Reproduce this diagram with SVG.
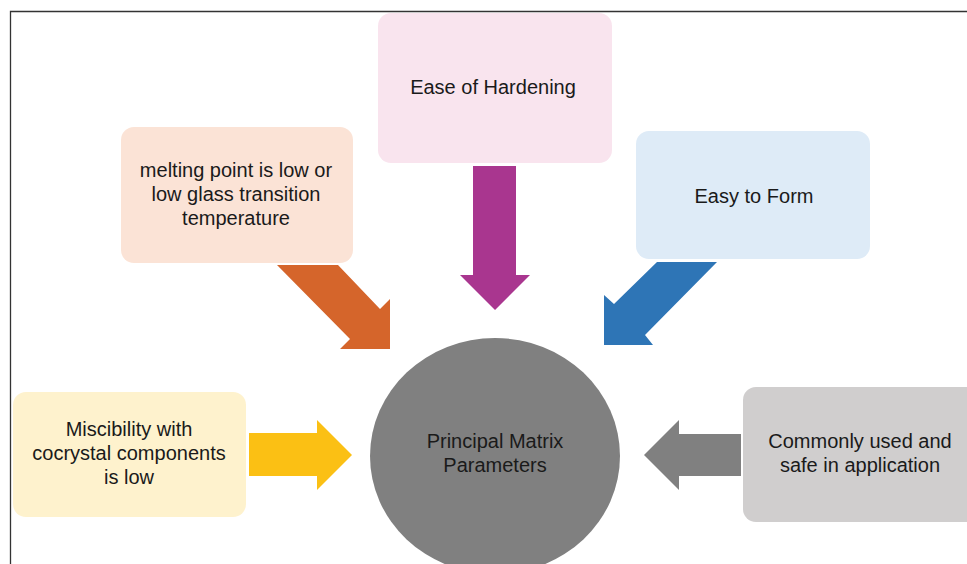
<svg xmlns="http://www.w3.org/2000/svg" width="967" height="564" viewBox="0 0 967 564">
<style>
text{font-family:"Liberation Sans",Arial,sans-serif;font-size:20px;fill:#1a1a1a;text-anchor:middle}
</style>
<rect width="967" height="564" fill="#ffffff"/>
<path d="M10.5 564 V11.5 H967" fill="none" stroke="#333333" stroke-width="1.3"/>
<g id="connectors">
<polygon fill="#D5652B" points="277,265 338,265 380,309 390,299 390,349 340,349 350,339"/>
<polygon fill="#A9368F" points="473,166 516,166 516,275 530,275 495,310 460,275 473,275"/>
<polygon fill="#2E75B6" points="657,262 717,262 645,335 653,345 604,345 604,295 614,304"/>
<polygon fill="#FBC014" points="249,433 317,433 317,420 352,455 317,490 317,476 249,476"/>
<polygon fill="#808080" points="741,434 679,434 679,420 644,455 679,490 679,476 741,476"/>
</g>
<g id="node-center">
<ellipse cx="495" cy="456" rx="125" ry="118" fill="#808080"/>
<text x="495" y="448">Principal Matrix</text>
<text x="495" y="472">Parameters</text>
</g>
<g id="node-hardening">
<rect x="378" y="13" width="234" height="150" rx="13" fill="#F9E4EE"/>
<text x="493" y="94">Ease of Hardening</text>
</g>
<g id="node-melting">
<rect x="121" y="127" width="232" height="136" rx="13" fill="#FBE3D6"/>
<text x="236" y="177">melting point is low or</text>
<text x="236" y="201">low glass transition</text>
<text x="236" y="225">temperature</text>
</g>
<g id="node-form">
<rect x="636" y="131" width="234" height="128" rx="13" fill="#DEEBF7"/>
<text x="754" y="203">Easy to Form</text>
</g>
<g id="node-miscibility">
<rect x="13" y="392" width="233" height="125" rx="13" fill="#FEF2CD"/>
<text x="129" y="436">Miscibility with</text>
<text x="129" y="460">cocrystal components</text>
<text x="129" y="484">is low</text>
</g>
<g id="node-common">
<rect x="743" y="387" width="240" height="135" rx="13" fill="#D0CECE"/>
<text x="860" y="448">Commonly used and</text>
<text x="860" y="472">safe in application</text>
</g>
</svg>
